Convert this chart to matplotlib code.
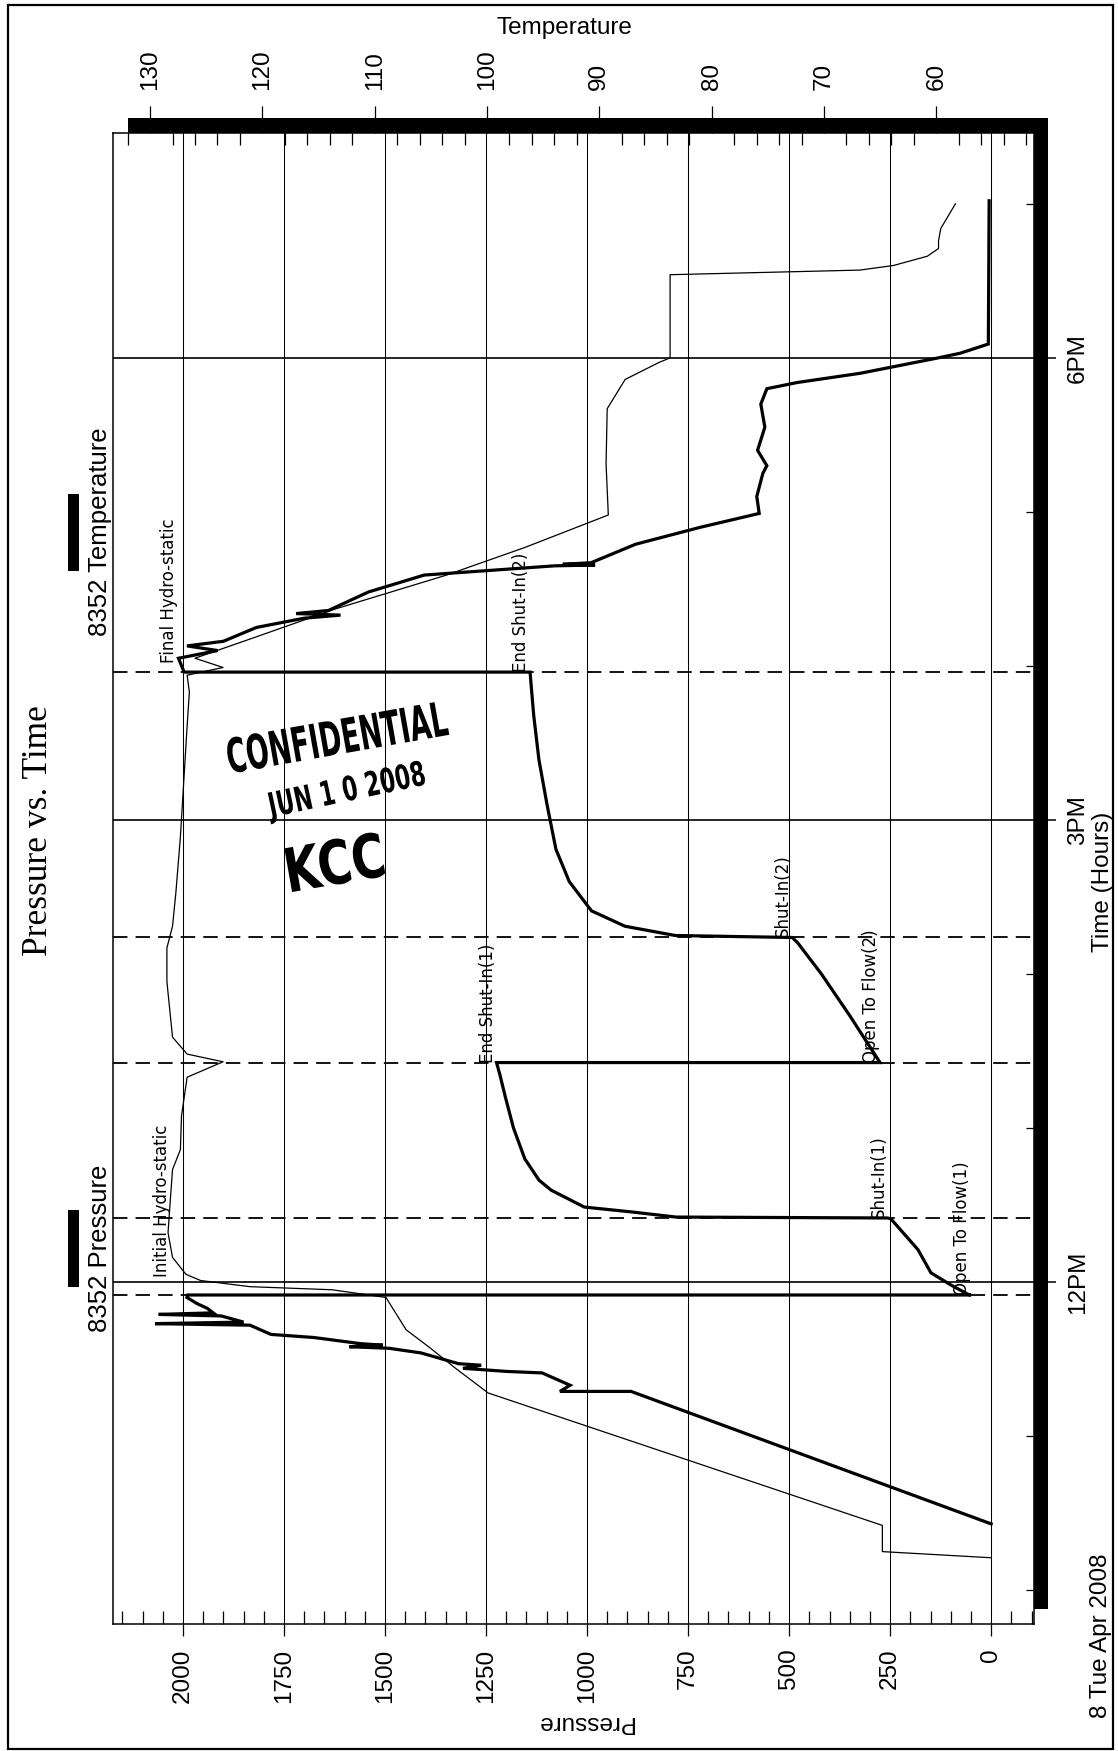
import matplotlib
matplotlib.use('Agg')
import matplotlib.pyplot as plt
from matplotlib.ticker import MultipleLocator, FixedLocator
from matplotlib.patches import Rectangle, PathPatch
from matplotlib.textpath import TextPath
from matplotlib.font_manager import FontProperties
from matplotlib.transforms import Affine2D, IdentityTransform

W, H = 1118, 1751

# pressure gauge 8352 (time in hours of day, psi)
p_time = [10.43, 11.29, 11.29, 11.33, 11.41, 11.42, 11.44, 11.46, 11.47, 11.54,
          11.57, 11.58, 11.59, 11.60, 11.64, 11.66, 11.72, 11.73, 11.74, 11.78,
          11.79, 11.80, 11.83, 11.86, 11.90, 11.916, 11.916, 11.92, 11.98, 12.06,
          12.21, 12.41, 12.416, 12.422, 12.455, 12.487, 12.597, 12.662, 12.80, 13.00,
          13.20, 13.35, 13.425, 13.425, 13.73, 14.00, 14.20, 14.237, 14.25, 14.31,
          14.41, 14.60, 14.81, 15.10, 15.39, 15.68, 15.96, 15.96, 16.05, 16.10,
          16.13, 16.16, 16.25, 16.31, 16.33, 16.34, 16.36, 16.48, 16.59, 16.65,
          16.655, 16.66, 16.67, 16.79, 16.90, 16.99, 17.10, 17.25, 17.30, 17.40,
          17.55, 17.70, 17.80, 17.84, 17.90, 18.00, 18.03, 18.09, 19.02]
p_psi = [0, 891, 1067, 1042, 1111, 1200, 1307, 1262, 1318, 1411,
         1490, 1588, 1505, 1560, 1676, 1782, 1834, 2069, 1850, 1905,
         2060, 1925, 1940, 1965, 1990, 1988, 50, 57, 99, 149,
         181, 248, 256, 780, 889, 1007, 1089, 1119, 1154, 1182,
         1202, 1216, 1224, 275, 350, 420, 478, 492, 782, 906,
         989, 1044, 1077, 1099, 1119, 1132, 1141, 1997, 2011, 1914,
         1990, 1900, 1818, 1700, 1610, 1720, 1640, 1541, 1403, 1080,
         980, 1060, 990, 880, 720, 574, 580, 565, 555, 578,
         560, 570, 555, 480, 324, 131, 77, 7, 5]

# temperature gauge 8352 (deg F)
t_time = [10.21, 10.25, 10.42, 11.28, 11.44, 11.58, 11.69, 11.90, 11.95, 11.97,
          12.01, 12.05, 12.16, 12.32, 12.53, 12.73, 12.86, 13.08, 13.33, 13.43,
          13.48, 13.59, 13.95, 14.17, 14.31, 14.53, 14.89, 15.25, 15.61, 15.83,
          15.94, 15.99, 16.05, 16.19, 16.37, 16.59, 16.77, 16.98, 17.31, 17.67,
          17.86, 17.97, 18.00, 18.54, 18.57, 18.60, 18.66, 18.71, 18.76, 18.84, 19.00]
t_degf = [55.1, 64.8, 64.8, 99.9, 102.8, 105.2, 107.2, 109.0, 113.8, 121.1,
          125.5, 126.8, 128.0, 128.4, 128.2, 128.0, 127.3, 127.2, 126.7, 123.5,
          126.7, 128.0, 128.5, 128.5, 128.0, 127.7, 127.3, 127.0, 126.7, 126.5,
          126.7, 123.5, 126.0, 120.5, 113.5, 103.6, 96.6, 89.2, 89.4, 89.3,
          87.7, 84.7, 83.7, 83.7, 66.8, 63.8, 60.8, 59.8, 59.8, 59.6, 58.3]

# test events (dashed markers) and their labels
event_time = [11.916, 12.416, 13.425, 14.237, 15.96]
event_text = ['Initial Hydro-static', 'Open To Flow(1)', 'Shut-In(1)', 'End Shut-In(1)',
              'Open To Flow(2)', 'Shut-In(2)', 'End Shut-In(2)', 'Final Hydro-static']
event_psi = [2030, 50, 256, 1224, 275, 492, 1141, 2011]
event_at = [12.03, 11.916, 12.416, 13.425, 13.425, 14.237, 15.96, 16.02]

time_ticks = [12, 15, 18]
time_names = ['12PM', '3PM', '6PM']

plt.rcParams['font.family'] = ['Liberation Sans', 'DejaVu Sans']
fig = plt.figure(figsize=(W / 100, H / 100), dpi=100)


def fx(x):
    return x / W


def fy(y):
    return 1 - y / H


# page border and drop shadow of the plot frame
fig.patches.append(Rectangle((fx(8), fy(1749)), fx(1113) - fx(8), fy(5) - fy(1749),
                             transform=fig.transFigure, fill=False, lw=1.6, ec='k', zorder=-2))
fig.patches.append(Rectangle((fx(128), fy(1609)), fx(1048) - fx(128), fy(118) - fy(1609),
                             transform=fig.transFigure, fc='k', ec='none', zorder=-1))

ax = fig.add_axes([fx(113), fy(1624), fx(1034) - fx(113), fy(133) - fy(1624)])
ax.set_facecolor('white')
ax.set_xlim(2173, -106)
ax.set_ylim(9.78, 19.46)
for s in ax.spines.values():
    s.set_linewidth(1.1)

# pressure axis (bottom)
ax.xaxis.set_major_locator(MultipleLocator(250))
ax.xaxis.set_minor_locator(MultipleLocator(50))
ax.tick_params(axis='x', which='major', direction='out', length=8.6, width=0.9,
               pad=9, labelsize=17.5, labelrotation=90, top=False)
ax.tick_params(axis='x', which='minor', direction='in', length=9.4, width=0.9, top=False)
ax.xaxis.grid(True, which='major', color='k', lw=0.75)

# time axis (right)
ax.yaxis.tick_right()
ax.yaxis.set_major_locator(FixedLocator(time_ticks))
ax.yaxis.set_minor_locator(MultipleLocator(1))
ax.set_yticklabels(time_names)
ax.tick_params(axis='y', which='major', direction='out', length=15.8, width=1.1,
               pad=8, labelsize=17.5, labelrotation=90, left=False)
ax.tick_params(axis='y', which='minor', direction='in', length=5.8, width=0.9, left=False)
for lbl in ax.get_yticklabels():
    lbl.set_va('center')
ax.yaxis.grid(True, which='major', color='k', lw=1.2)

for t in event_time:
    ax.axhline(t, color='k', lw=1.3, dashes=(8, 4.5), zorder=2)

ax.plot(p_psi, p_time, color='k', lw=2.3, zorder=4, solid_joinstyle='miter')

for txt, p, t in zip(event_text, event_psi, event_at):
    ax.text(p, t, txt, rotation=90, ha='right', va='bottom', fontsize=12,
            family='DejaVu Sans', zorder=6)

# temperature axis (top)
axT = ax.twiny()
axT.set_xlim(133.3, 51.3)
axT.xaxis.set_major_locator(MultipleLocator(10))
axT.xaxis.set_minor_locator(MultipleLocator(2))
axT.tick_params(axis='x', which='major', direction='out', length=19.4, width=0.9,
                pad=11.5, labelsize=17.5, labelrotation=90, bottom=False)
axT.tick_params(axis='x', which='minor', direction='in', length=8.6, width=0.9, bottom=False)
for s in axT.spines.values():
    s.set_visible(False)
axT.plot(t_degf, t_time, color='k', lw=0.9, zorder=3)

# axis titles
fig.text(fx(564), fy(28), 'Temperature', ha='center', va='center', fontsize=17.5)
fig.text(fx(585), fy(1722), 'Pressure', ha='center', va='center', fontsize=17.5, rotation=180)
fig.text(fx(1103), fy(882), 'Time (Hours)', ha='center', va='center', fontsize=17.5, rotation=90)
fig.text(fx(1101), fy(1636), '8 Tue Apr 2008', ha='center', va='center', fontsize=17.5, rotation=90)
fig.text(fx(39), fy(831), 'Pressure vs. Time', ha='center', va='center', fontsize=25.5,
         rotation=90, family='Liberation Serif')

# legend
fig.text(fx(100), fy(1248), '8352 Pressure', ha='center', va='center', fontsize=18.5, rotation=90)
fig.patches.append(Rectangle((fx(68), fy(1287)), fx(79) - fx(68), fy(1210) - fy(1287),
                             transform=fig.transFigure, fc='k', ec='none'))
fig.text(fx(100), fy(532), '8352 Temperature', ha='center', va='center', fontsize=18.5, rotation=90)
fig.patches.append(Rectangle((fx(68), fy(571)), fx(79) - fx(68), fy(494) - fy(571),
                             transform=fig.transFigure, fc='k', ec='none'))


# confidential stamp
def stamp(s, cx, cy, w, h, angle):
    tp = TextPath((0, 0), s, size=100, prop=FontProperties(family='DejaVu Sans', weight='bold'))
    e = tp.get_extents()
    tr = (Affine2D().translate(-(e.x0 + e.x1) / 2, -(e.y0 + e.y1) / 2)
          .scale(w / e.width, h / e.height).rotate_deg(angle).translate(cx, H - cy))
    fig.patches.append(PathPatch(tr.transform_path(tp), fc='k', ec='none',
                                 transform=IdentityTransform(), zorder=5))


stamp('CONFIDENTIAL', 337, 737, 222, 36, 10)
stamp('JUN 1 0 2008', 346, 792, 160, 32, 12)
stamp('KCC', 335, 862, 95, 46, 10)

fig.savefig('out.png', dpi=100)
